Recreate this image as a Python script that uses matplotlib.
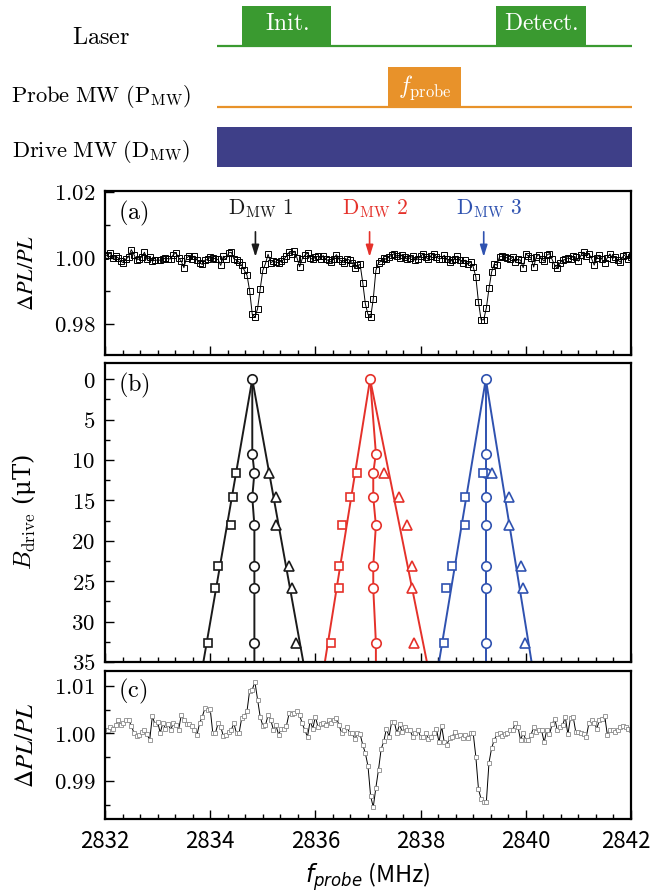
import matplotlib.pyplot as plt
import numpy as np
from matplotlib.ticker import MultipleLocator, FuncFormatter
from matplotlib.transforms import ScaledTranslation

plt.rcParams['font.family'] = 'serif'
plt.rcParams['font.serif'] = ['DejaVu Serif']
plt.rcParams['mathtext.fontset'] = 'cm'

# pulse sequence, time in % of one cycle
laser_on = [6.0, 67.2]
laser_off = [27.5, 88.9]
laser_names = ['Init.', 'Detect.']
probe_on = [41.2]
probe_off = [58.8]

# probe sweep 2832 -> 2842 MHz, 0.05 MHz step
f_start, f_stop = 2832, 2842

# (a) PL with drive MW on
pl_a = [1.0005, 1.0010, 1.0015, 1.0000, 1.0005, 1.0000, 0.9990, 0.9985, 0.9997, 1.0003,
        1.0025, 1.0010, 0.9993, 0.9997, 1.0003, 1.0017, 0.9995, 1.0002, 0.9990, 0.9993,
        0.9993, 0.9993, 0.9995, 1.0000, 0.9997, 0.9997, 1.0010, 1.0015, 1.0000, 0.9990,
        0.9970, 1.0000, 1.0005, 0.9998, 1.0005, 0.9993, 0.9985, 0.9980, 0.9993, 0.9995,
        1.0002, 1.0000, 0.9997, 0.9995, 0.9977, 1.0005, 0.9995, 1.0015, 1.0017, 0.9997,
        0.9993, 0.9987, 0.9977, 0.9962, 0.9947, 0.9900, 0.9828, 0.9820, 0.9845, 0.9905,
        0.9962, 0.9982, 1.0011, 0.9985, 0.9990, 0.9987, 0.9985, 0.9990, 0.9995, 1.0005,
        1.0017, 1.0012, 1.0020, 1.0000, 0.9973, 0.9997, 1.0008, 1.0015, 1.0000, 0.9995,
        1.0003, 1.0005, 0.9997, 1.0007, 0.9995, 0.9992, 0.9987, 0.9997, 1.0010, 0.9995,
        0.9990, 0.9985, 0.9997, 0.9993, 0.9985, 0.9970, 0.9977, 0.9980, 0.9925, 0.9860,
        0.9828, 0.9820, 0.9875, 0.9962, 0.9985, 0.9990, 1.0000, 0.9995, 1.0003, 1.0008,
        1.0013, 1.0005, 1.0000, 1.0010, 1.0003, 0.9995, 1.0000, 1.0005, 0.9992, 0.9997,
        1.0005, 1.0012, 1.0002, 0.9995, 1.0007, 1.0013, 1.0003, 0.9997, 0.9998, 1.0008,
        0.9995, 0.9988, 0.9993, 0.9998, 1.0005, 0.9992, 0.9985, 0.9993, 0.9980, 0.9988,
        0.9973, 0.9942, 0.9866, 0.9812, 0.9812, 0.9848, 0.9907, 0.9957, 0.9981, 0.9978,
        1.0003, 1.0005, 1.0002, 1.0000, 0.9995, 1.0003, 0.9988, 0.9995, 0.9993, 0.9970,
        1.0012, 1.0005, 1.0000, 0.9972, 1.0003, 1.0010, 0.9997, 0.9990, 1.0008, 1.0013,
        0.9995, 0.9978, 0.9968, 0.9985, 0.9993, 0.9995, 1.0000, 0.9997, 1.0005, 1.0002,
        0.9990, 1.0008, 1.0017, 1.0005, 1.0013, 0.9998, 0.9978, 1.0000, 1.0008, 0.9995,
        0.9985, 1.0000, 1.0012, 0.9998, 1.0003, 0.9993, 0.9987, 1.0005, 1.0010, 0.9997,
        1.0002]

# (c)
pl_c = [1.0008, 1.0006, 1.0013, 1.0010, 1.0017, 1.0028, 1.0017, 1.0022, 1.0029, 1.0028,
        1.0016, 1.0001, 0.9994, 0.9997, 1.0002, 1.0006, 0.9998, 0.9986, 1.0036, 1.0019,
        1.0024, 1.0001, 1.0022, 1.0010, 1.0019, 1.0008, 1.0021, 1.0017, 1.0008, 1.0038,
        1.0029, 1.0019, 1.0020, 1.0015, 1.0007, 0.9997, 1.0022, 1.0035, 1.0053, 1.0049,
        1.0051, 1.0000, 1.0001, 1.0021, 1.0014, 0.9994, 0.9997, 1.0003, 1.0007, 1.0021,
        1.0000, 1.0001, 1.0033, 1.0037, 1.0047, 1.0090, 1.0092, 1.0108, 1.0071, 1.0035,
        1.0016, 1.0017, 1.0038, 1.0029, 1.0008, 1.0017, 0.9997, 1.0010, 1.0010, 1.0016,
        1.0042, 1.0040, 1.0043, 1.0047, 1.0038, 1.0021, 1.0006, 0.9993, 1.0026, 1.0010,
        1.0035, 1.0013, 1.0020, 1.0022, 1.0017, 1.0028, 1.0021, 1.0028, 1.0033, 1.0017,
        1.0000, 1.0007, 1.0014, 1.0000, 1.0001, 0.9988, 1.0000, 0.9998, 0.9976, 0.9958,
        0.9931, 0.9868, 0.9845, 0.9886, 0.9924, 0.9967, 0.9983, 1.0010, 0.9993, 1.0024,
        1.0024, 1.0000, 1.0019, 1.0003, 1.0014, 1.0006, 1.0006, 0.9993, 1.0001, 1.0007,
        0.9992, 0.9993, 1.0000, 0.9988, 0.9993, 1.0001, 1.0010, 0.9981, 1.0015, 0.9981,
        0.9976, 0.9990, 0.9993, 1.0003, 0.9994, 0.9997, 0.9990, 0.9997, 0.9990, 1.0000,
        1.0000, 0.9951, 0.9883, 0.9862, 0.9856, 0.9856, 0.9938, 0.9969, 0.9986, 0.9998,
        1.0000, 0.9994, 0.9999, 1.0001, 1.0007, 1.0006, 1.0022, 1.0014, 0.9986, 1.0001,
        0.9986, 0.9986, 0.9997, 1.0013, 1.0003, 1.0007, 1.0006, 0.9981, 1.0008, 0.9998,
        1.0019, 1.0031, 1.0006, 1.0013, 1.0017, 1.0035, 0.9998, 1.0033, 1.0035, 1.0003,
        1.0003, 1.0000, 0.9999, 0.9993, 1.0021, 1.0029, 1.0022, 1.0010, 1.0028, 1.0030,
        1.0037, 0.9997, 1.0008, 1.0008, 1.0003, 1.0007, 1.0013, 1.0015, 1.0013, 1.0010,
        1.0008]

# (b) resonance frequency vs drive field, one set per drive MW
b_drive = [0, 9.2, 11.6, 14.6, 18.1, 23.1, 25.9, 32.6]
b_side = b_drive[2:]
f_center = [[2834.80, 2834.80, 2834.84, 2834.80, 2834.84, 2834.84, 2834.84, 2834.84],
            [2837.04, 2837.15, 2837.10, 2837.10, 2837.15, 2837.10, 2837.10, 2837.15],
            [2839.24, 2839.24, 2839.24, 2839.24, 2839.24, 2839.24, 2839.24, 2839.24]]
f_lower = [[2834.49, 2834.44, 2834.40, 2834.15, 2834.09, 2833.96],
           [2836.79, 2836.65, 2836.50, 2836.45, 2836.45, 2836.30],
           [2839.18, 2838.84, 2838.84, 2838.59, 2838.49, 2838.45]]
f_upper = [[2835.11, 2835.25, 2835.25, 2835.50, 2835.55, 2835.64],
           [2837.30, 2837.59, 2837.74, 2837.84, 2837.84, 2837.88],
           [2839.35, 2839.69, 2839.69, 2839.90, 2839.94, 2839.98]]
# linear fits: apex at B=0, value at B=35
fit_b = [0, 35]
fit_apex = [2834.80, 2837.04, 2839.24]
fit_low35 = [2833.87, 2836.18, 2838.35]
fit_up35 = [2835.77, 2838.12, 2840.11]

dmw_freq = [2834.86, 2837.03, 2839.20]
dmw_names = ['1', '2', '3']
colors = ['#1a1a1a', '#e5312a', '#2f52b0']

W, H = 654, 896
fig = plt.figure(figsize=(W / 100, H / 100), dpi=100)

def px_box(x0, y0, x1, y1):
    return [x0 / W, 1 - y1 / H, (x1 - x0) / W, (y1 - y0) / H]

# ---- pulse diagram ----
green, orange, navy = '#3a9a30', '#e8922a', '#3e3f88'
ax_d = fig.add_axes(px_box(217, 0, 632, 175))
ax_d.set_xlim(0, 100)
ax_d.set_ylim(175, 0)
ax_d.axis('off')
laser_base, probe_base, pulse_h = 46, 107.5, 40
ax_d.plot([0, 100], [laser_base, laser_base], color=green, lw=1.6, solid_capstyle='butt')
ax_d.plot([0, 100], [probe_base, probe_base], color=orange, lw=1.6, solid_capstyle='butt')
for on, off, name in zip(laser_on, laser_off, laser_names):
    ax_d.bar(on, -pulse_h, width=off - on, bottom=laser_base, align='edge', color=green)
    ax_d.text((on + off) / 2, laser_base - pulse_h / 2 - 2, r'$\mathrm{%s}$' % name,
              color='white', ha='center', va='center', fontsize=17)
for on, off in zip(probe_on, probe_off):
    ax_d.bar(on, -pulse_h, width=off - on, bottom=probe_base, align='edge', color=orange)
    ax_d.text((on + off) / 2, probe_base - pulse_h / 2, r'$f_{\rm probe}$',
              color='white', ha='center', va='center', fontsize=17)
ax_d.bar(0, 40, width=100, bottom=127, align='edge', color=navy)

fig.text(101 / W, 1 - 44 / H, r'$\mathrm{Laser}$', ha='center', va='baseline', fontsize=17.5)
fig.text(101 / W, 1 - 102 / H, r'$\mathrm{Probe\ MW\ (P_{MW})}$', ha='center', va='baseline', fontsize=16.2)
fig.text(101 / W, 1 - 157 / H, r'$\mathrm{Drive\ MW\ (D_{MW})}$', ha='center', va='baseline', fontsize=16.2)

# ---- data panels ----
ax_a = fig.add_axes(px_box(105, 191, 631, 355))
ax_b = fig.add_axes(px_box(105, 363, 631, 662))
ax_c = fig.add_axes(px_box(105, 671, 631, 819))

f_a = np.linspace(f_start, f_stop, len(pl_a))
f_c = np.linspace(f_start, f_stop, len(pl_c))

ax_a.plot(f_a, pl_a, color='black', lw=0.7, marker='s', ms=4.4, mfc='none', mec='black', mew=0.7)
ax_a.set_ylim(0.9705, 1.0203)
for fr, name, c in zip(dmw_freq, dmw_names, colors):
    ax_a.annotate('', xy=(fr, 1.0003), xytext=(fr, 1.0079),
                  arrowprops=dict(arrowstyle='-|>,head_length=0.7,head_width=0.22',
                                  color=c, lw=1.2, mutation_scale=10, shrinkA=0, shrinkB=0))
    ax_a.text(fr + 0.1, 1.015, r'$\mathrm{D_{MW}\ %s}$' % name, color=c,
              ha='center', va='center', fontsize=15.5)

for k in range(3):
    c = colors[k]
    ax_b.plot([fit_apex[k], fit_low35[k]], fit_b, color=c, lw=1.4)
    ax_b.plot([fit_apex[k], fit_up35[k]], fit_b, color=c, lw=1.4)
    ax_b.plot(f_center[k] + [f_center[k][-1]], b_drive + [fit_b[-1]], color=c, lw=1.4)
    ax_b.plot(f_center[k], b_drive, 'o', ms=6.8, mfc='white', mec=c, mew=1.2)
    ax_b.plot(f_lower[k], b_side, 's', ms=6.3, mfc='white', mec=c, mew=1.2)
    ax_b.plot(f_upper[k], b_side, '^', ms=7.5, mfc='white', mec=c, mew=1.2)
ax_b.set_ylim(35, -2)

ax_c.plot(f_c, pl_c, color='black', lw=0.7, marker='s', ms=2.6, mfc='white', mec='#8a8a8a', mew=0.6)
ax_c.set_ylim(0.982, 1.0131)

xticks = np.arange(f_start, f_stop + 1, 2)
for ax in (ax_a, ax_b, ax_c):
    ax.set_xlim(f_start, f_stop)
    ax.xaxis.set_minor_locator(MultipleLocator(1 / 3))
    ax.tick_params(which='both', direction='in', width=1.0)
    ax.tick_params(which='major', length=6.5)
    ax.tick_params(which='minor', length=3.5)
    ax.tick_params(axis='y', labelsize=16.5, pad=7)
    for s in ax.spines.values():
        s.set_linewidth(1.6)
    ax.yaxis.set_label_coords(-0.127, 0.5)
for ax in (ax_a, ax_b):
    ax.set_xticks(xticks)
    ax.tick_params(axis='x', labelbottom=False)
ax_c.set_xticks(xticks, labels=[f'{t:d}' for t in xticks], fontfamily='Noto Sans CJK JP', fontsize=16)
ax_c.tick_params(axis='x', pad=8)
# pull the last label in so it stays inside the figure
last = ax_c.get_xticklabels()[-1]
last.set_transform(last.get_transform() + ScaledTranslation(-4 / 72, 0, fig.dpi_scale_trans))

ax_a.yaxis.set_major_locator(MultipleLocator(0.02))
ax_a.yaxis.set_minor_locator(MultipleLocator(0.01))
ax_a.yaxis.set_major_formatter(FuncFormatter(lambda v, p: f'${v:.2f}$'))
ax_b.yaxis.set_major_locator(MultipleLocator(5))
ax_b.yaxis.set_minor_locator(MultipleLocator(2.5))
ax_b.yaxis.set_major_formatter(FuncFormatter(lambda v, p: f'${v:.0f}$'))
ax_c.yaxis.set_major_locator(MultipleLocator(0.01))
ax_c.yaxis.set_minor_locator(MultipleLocator(0.005))
ax_c.yaxis.set_major_formatter(FuncFormatter(lambda v, p: f'${v:.2f}$'))

ax_a.set_ylabel(r'$\mathit{\Delta PL/PL}$', fontsize=16, math_fontfamily='stix')
ax_b.set_ylabel(r'$B_{\rm drive}$ (μT)', fontsize=17.5)
ax_c.set_ylabel(r'$\mathit{\Delta PL/PL}$', fontsize=18, math_fontfamily='stix')
ax_c.set_xlabel(r'$f_{probe}$ (MHz)', fontfamily='Noto Sans CJK JP', fontsize=17,
                math_fontfamily='dejavusans')
ax_c.xaxis.set_label_coords(0.5, -0.28)

for ax, lab, yy in zip((ax_a, ax_b, ax_c), ('(a)', '(b)', '(c)'), (0.865, 0.925, 0.865)):
    ax.text(0.025, yy, r'$\mathrm{%s}$' % lab, transform=ax.transAxes, fontsize=17.5, va='center')

fig.savefig('out.png', dpi=100)
